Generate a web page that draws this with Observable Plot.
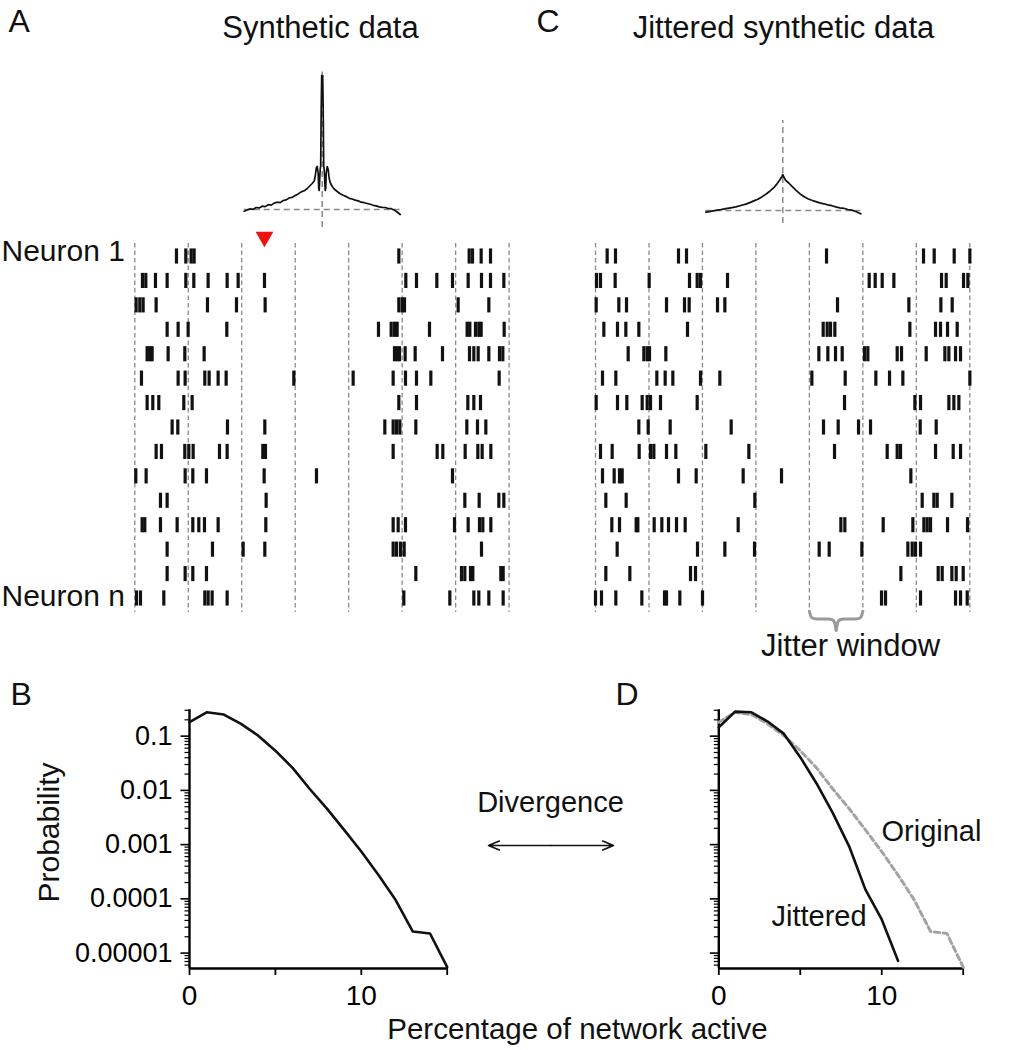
<!DOCTYPE html>
<html>
<head>
<meta charset="utf-8">
<script src="https://cdn.jsdelivr.net/npm/d3@7"></script>
<script src="https://cdn.jsdelivr.net/npm/@observablehq/plot@0.6"></script>
<style>
  body { margin: 0; background: #fff; }
  #fig { position: relative; width: 1015px; height: 1050px; background: #fff; }
  #fig svg { position: absolute; left: 0; top: 0; overflow: visible; }
</style>
</head>
<body>
<div id="fig"></div>
<script>
// ---------------- DATA ----------------
// Raster: spike times (a.u.) per neuron, 15 neurons
const neuronRows = [1,2,3,4,5,6,7,8,9,10,11,12,13,14,15];
const timeEdges = [0, 160.4, 320.8, 481.2, 641.6, 802, 962.4, 1122.8];

const spikesA = [
  [125,153,169,178,792,1003,1013,1039,1067],
  [23,33,62,97,153,177,220,277,310,389,813,845,906,953,1000,1040,1067,1107],
  [4,15,25,64,218,305,391,792,802,809,970,1062],
  [97,130,160,276,731,769,779,787,884,997,1005,1022,1032,1039,1108],
  [37,45,52,100,150,208,779,787,794,811,841,923,1004,1017,1030,1062,1094,1104],
  [20,130,151,210,223,250,274,477,655,775,812,845,888,1093],
  [37,54,72,147,172,792,845,999,1017,1037],
  [112,129,278,390,750,775,785,795,843,996,1028,1053],
  [64,80,150,162,175,254,277,384,392,775,907,924,991,1029,1042,1068],
  [3,34,151,174,215,388,545,953],
  [77,97,394,990,1033,1092,1107],
  [22,30,77,127,174,192,209,250,393,775,790,812,959,1000,1034,1044,1068],
  [97,233,325,390,775,785,797,808,1040],
  [97,151,174,215,843,980,990,1007,1014,1098,1105],
  [5,17,87,210,220,232,277,807,945,1017,1032,1062,1105]
];

const spikesC = [
  [35,60,249,273,693,984,1016,1076,1123],
  [3,15,59,161,282,305,315,396,821,839,860,895,1038,1052,1104,1117],
  [2,70,93,213,267,281,366,388,726,940,1036,1070],
  [25,66,91,130,276,683,695,705,718,943,1020,1035,1056,1085],
  [98,145,155,162,211,670,697,720,740,807,817,905,918,992,1048,1060,1080,1095],
  [21,61,184,209,232,315,373,649,749,841,882,922,1123],
  [2,66,94,140,155,165,195,305,747,958,975,1060,1075,1090],
  [130,158,224,407,684,728,789,825,974,1022],
  [15,50,131,165,175,213,241,331,460,717,875,905,915,1020,1073,1095],
  [21,56,72,80,249,302,443,558,946],
  [31,92,478,980,1015,1025,1069],
  [49,72,122,127,176,199,219,243,269,428,736,748,863,952,985,995,1005,1056,1116],
  [65,306,388,477,671,701,799,937,950,960,975],
  [31,103,285,300,916,1028,1040,1069,1082,1103],
  [0,18,61,139,207,213,253,321,858,870,975,1080,1095,1115]
];

const markerTimeA = 389;       // red arrowhead over synchronous column
const jitterWindowBin = 4;     // index of the bin marked as jitter window

// Cross-correlograms (lag a.u., count a.u.)
const ccgLagA = [-78,-75,-72,-69,-66,-63,-60,-57,-54,-51,-48,-45,-42,-39,-36,-33,-30,-27,-24,-21,-18,-15,-12,-10,-8,-7,-6,-5,-4,-3.5,-3,-2.5,-2,-1.5,-1,-0.5,0,0.5,1,1.5,2,2.5,3,3.5,4,5,6,7,8,10,12,15,18,21,24,27,30,33,36,39,42,45,48,51,54,57,60,63,66,69,72,75,78];
const ccgA    = [-1.7,-0.5,0.6,0.2,2.0,1.6,3.3,2.9,4.8,4.4,6.4,7.3,6.9,9.0,9.6,11.5,12.1,14.0,15.6,17.6,18.7,21.0,24.0,26.0,28.5,33,41,43,36,21,19,30,40,44,100,134,134,134,100,44,40,30,19,21,36,43,40,31,27,23,20.5,18,15.8,14.2,12.9,11.2,10.5,9.4,8.6,7.3,6.8,6.0,5.2,4.2,3.6,2.6,2.2,2.0,1.0,0.8,-0.5,-2.5,-5];

const ccgLagC = [-77,-72,-67,-62,-57,-52,-47,-42,-37,-33,-29,-25,-21,-17,-13,-9,-6,-3,-1,0,1,3,6,9,13,17,21,25,29,33,37,41,45,49,53,57,61,65,69,73,78];
const ccgC    = [-1.7,-0.8,0.2,0.8,1.8,2.7,3.6,5.0,6.4,7.9,9.6,11.3,13.6,16.3,19.3,22.8,26.4,30.5,33.8,36,33.5,30,27.5,24.4,20.3,16.8,14,11.8,10.2,8.9,7.6,6.7,5.6,4.8,3.6,2.7,2.2,1.0,0.4,-1.0,-3.3];

// Distributions of percentage of network active
const pctActive      = [0,1,2,3,4,5,6,7,8,9,10,11,12,13,14,15];
const probOriginal   = [0.181,0.275,0.25,0.168,0.102,0.054,0.026,0.0106,0.0046,0.00187,0.000745,0.000275,0.000095,0.000025,0.000023,0.0000055];
const pctJittered    = [0,1,2,3,4,5,6,7,8,9,10,11];
const probJittered   = [0.146,0.283,0.275,0.186,0.11,0.041,0.0134,0.0038,0.00093,0.000148,0.0000417,0.0000072];

// Axis ticks
const xTickValues = [0,5,10,15];
const xTickLabels = ["0","","10",""];
const yTickValues = [0.1,0.01,0.001,0.0001,0.00001];
const yTickLabels = ["0.1","0.01","0.001","0.0001","0.00001"];

// ---------------- LAYOUT ----------------
const W = 1015, H = 1050;
const FONT = "Liberation Sans, Arial, Helvetica, sans-serif";
const fig = document.getElementById("fig");
const baseStyle = {background: "transparent", overflow: "visible", fontFamily: FONT, color: "#000"};
function place(svg) { fig.append(svg); }

const rowPx = [256, 598];
const yLogDomain = [5.2e-6, 0.306];
const logTop = 709.3, logBottom = 968;

// ---------------- RASTERS ----------------
function raster(spikes, xRange, extra) {
  const data = spikes.flatMap((ts, i) => ts.map(t => ({neuron: neuronRows[i], t})));
  return Plot.plot({
    width: W, height: H, margin: 0,
    style: baseStyle,
    x: {domain: [0, timeEdges[timeEdges.length - 1]], range: xRange, axis: null},
    y: {domain: [1, 15], range: rowPx, axis: null},
    marks: [
      Plot.ruleX(timeEdges, {y1: 0.47, y2: 15.57, stroke: "#8a8a8a", strokeWidth: 1.3, strokeDasharray: "4.5,3"}),
      Plot.ruleX(data, {x: "t", y1: d => d.neuron - 0.31, y2: d => d.neuron + 0.31, stroke: "#111", strokeWidth: 3.2}),
      ...extra
    ]
  });
}

place(raster(spikesA, [134.3, 508.6], [
  Plot.dot([markerTimeA], {x: d => d, y: 0.2, symbol: "triangle", rotate: 180, r: 6.6, fill: "#ee1111", stroke: "none"})
]));

// jitter window brace (derived from the window's bin edges)
const wa = timeEdges[jitterWindowBin], wb = timeEdges[jitterWindowBin + 1];
const wm = (wa + wb) / 2, ww = wb - wa;
const braceLeft = [[wa, 15.52],[wa + 0.03*ww, 15.82],[wa + 0.12*ww, 15.84],[wm - 0.12*ww, 15.84],[wm - 0.03*ww, 15.86],[wm, 16.3]];
const braceRight = braceLeft.map(([x, y]) => [wa + wb - x, y]);
place(raster(spikesC, [595, 969.3], [
  Plot.line(braceLeft, {curve: "basis", stroke: "#9a9a9a", strokeWidth: 3}),
  Plot.line(braceRight, {curve: "basis", stroke: "#9a9a9a", strokeWidth: 3})
]));

// ---------------- CORRELOGRAMS ----------------
function ccg(lags, vals, xRange, yDomain, yRange, guide) {
  const pts = lags.map((l, i) => ({lag: l, v: vals[i]}));
  const lagExt = d3.extent(lags);
  return Plot.plot({
    width: W, height: H, margin: 0, style: baseStyle,
    x: {domain: [-78, 78], range: xRange, axis: null},
    y: {domain: yDomain, range: yRange, axis: null},
    marks: [
      Plot.ruleY([0], {x1: lagExt[0], x2: lagExt[1], stroke: "#8a8a8a", strokeWidth: 1.5, strokeDasharray: "6,4"}),
      Plot.ruleX([0], {y1: guide[0], y2: guide[1], stroke: "#8a8a8a", strokeWidth: 1.5, strokeDasharray: "6,4"}),
      Plot.line(pts, {x: "lag", y: "v", stroke: "#111", strokeWidth: 1.7})
    ]
  });
}
place(ccg(ccgLagA, ccgA, [243.7, 399.7], [0, 134], [209, 75], [-18, 137.5]));
place(ccg(ccgLagC, ccgC, [704.3, 860.3], [0, 36], [210, 174], [-13, 90]));

// ---------------- LOG PANELS ----------------
const minorTicks = [];
for (let e = -6; e <= -1; e++) for (let m = 2; m <= 9; m++) {
  const v = m * Math.pow(10, e);
  if (v >= yLogDomain[0] && v <= yLogDomain[1]) minorTicks.push(v);
}
function logPanel(left, right, showY, lines) {
  return Plot.plot({
    width: W, height: H,
    marginLeft: left, marginRight: W - right, marginTop: logTop, marginBottom: H - logBottom,
    style: baseStyle,
    x: {domain: [0, 15], axis: null},
    y: {type: "log", domain: yLogDomain, axis: null},
    marks: [
      Plot.axisY({ticks: minorTicks, tickSize: 4.5, strokeWidth: 1.2, tickFormat: () => "", label: null}),
      Plot.axisY({ticks: yTickValues, tickSize: 8.5, tickPadding: 8.5, strokeWidth: 1.6, fontSize: 27,
        tickFormat: d => showY ? yTickLabels[yTickValues.indexOf(d)] : "", label: null}),
      Plot.axisX({ticks: xTickValues, tickSize: 7, tickPadding: 10, strokeWidth: 1.8, fontSize: 28,
        tickFormat: d => xTickLabels[xTickValues.indexOf(d)], label: null}),
      Plot.ruleX([0], {y1: yLogDomain[0], y2: yLogDomain[1], stroke: "#000", strokeWidth: 2.4}),
      Plot.ruleY([yLogDomain[0]], {x1: 0, x2: 15, stroke: "#000", strokeWidth: 2.4}),
      ...lines
    ]
  });
}
place(logPanel(189, 446.7, true, [
  Plot.line(pctActive, {x: d => d, y: (d, i) => probOriginal[i], stroke: "#111", strokeWidth: 2.6})
]));
place(logPanel(718.3, 962.7, false, [
  Plot.line(pctActive, {x: d => d, y: (d, i) => probOriginal[i], stroke: "#a3a3a3", strokeWidth: 3, strokeDasharray: "5.5,3.5"}),
  Plot.line(pctJittered, {x: d => d, y: (d, i) => probJittered[i], stroke: "#111", strokeWidth: 2.6})
]));

// ---------------- TEXT / ANNOTATIONS ----------------
const textsStart = [
  {text: "A", x: 8, y: 31, size: 32},
  {text: "C", x: 536, y: 31, size: 32},
  {text: "B", x: 10, y: 704, size: 32},
  {text: "D", x: 615, y: 704, size: 32},
  {text: "Neuron 1", x: 1, y: 260, size: 30},
  {text: "Neuron n", x: 1, y: 605, size: 30},
  {text: "Original", x: 881, y: 840, size: 29},
  {text: "Jittered", x: 771, y: 925, size: 29}
];
const textsMiddle = [
  {text: "Synthetic data", x: 320, y: 37, size: 31, rot: 0},
  {text: "Jittered synthetic data", x: 783, y: 37, size: 31, rot: 0},
  {text: "Jitter window", x: 850, y: 655, size: 31, rot: 0},
  {text: "Divergence", x: 550, y: 811, size: 29, rot: 0},
  {text: "Percentage of network active", x: 577, y: 1038, size: 29.5, rot: 0},
  {text: "Probability", x: 58, y: 832, size: 30, rot: -90}
];
const divergenceArrow = {x1: 488, x2: 613, y: 845};
const arrows = [
  {x1: (divergenceArrow.x1 + divergenceArrow.x2) / 2, x2: divergenceArrow.x1, y: divergenceArrow.y},
  {x1: (divergenceArrow.x1 + divergenceArrow.x2) / 2, x2: divergenceArrow.x2, y: divergenceArrow.y}
];
place(Plot.plot({
  width: W, height: H, margin: 0, style: baseStyle,
  x: {domain: [0, W], range: [0, W], axis: null},
  y: {domain: [0, H], range: [0, H], axis: null},
  marks: [
    Plot.text(textsStart, {x: "x", y: "y", text: "text", fontSize: d => d.size, textAnchor: "start", lineAnchor: "bottom", fill: "#111", fontFamily: FONT}),
    Plot.text(textsMiddle, {x: "x", y: "y", text: "text", fontSize: d => d.size, rotate: "rot", textAnchor: "middle", lineAnchor: "bottom", fill: "#111", fontFamily: FONT}),
    Plot.arrow(arrows, {x1: "x1", x2: "x2", y1: "y", y2: "y", stroke: "#111", strokeWidth: 1.6, headLength: 11, headAngle: 45})
  ]
}));
</script>
</body>
</html>
